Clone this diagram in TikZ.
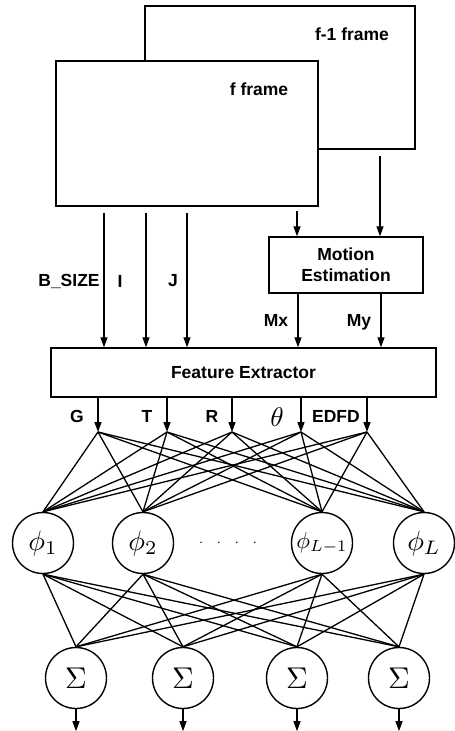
\documentclass[tikz,border=0pt]{standalone}
\usepackage[no-math]{fontspec}
\usepackage{amsmath}
\usetikzlibrary{arrows.meta}
\newfontfamily\labelfont{Liberation Sans}

\tikzset{
  frame/.style={draw, line width=1.4pt, fill=white, inner sep=0pt},
  block/.style={draw, line width=1.4pt, inner sep=0pt, align=center},
  neuron/.style={draw, circle, line width=1.4pt, minimum size=61pt, inner sep=0pt},
  arr/.style={line width=1.3pt, -{Triangle[length=10pt,width=7pt]}},
  link/.style={line width=1.3pt},
  txt/.style={font=\labelfont\bfseries\fontsize{17.5}{21}\selectfont},
}

\begin{document}
\begin{tikzpicture}[x=1pt,y=-1pt]
    \useasboundingbox (0,0) rectangle (455,731);
    % the two frames
    \node[frame, minimum width=270pt, minimum height=143pt] (fprev) at (280,77.5) {};
    \node[frame, minimum width=262pt, minimum height=145pt] (fcur) at (187,133.5) {};
    \node[txt] (fprevtxt) at (352,34) {f-1 frame};
    \node[txt] (fcurtxt) at (259,89) {f frame};

    \node[block, txt, minimum width=154pt, minimum height=56pt] (motion) at (346,265) {Motion\\Estimation};
    \node[block, txt, minimum width=385pt, minimum height=49pt] (feat) at (243.5,372.5) {Feature Extractor};

    % inputs to the extractor
    \foreach \x in {104,146,187}
        \draw[arr] (fcur.south -| \x,0) ++(0,6) -- (feat.north -| \x,0);
    \draw[arr] (fcur.south -| 297,0) ++(0,4) -- (motion.north -| 297,0);
    \draw[arr] (fprev.south -| 380,0) ++(0,6) -- (motion.north -| 380,0);
    \draw[arr] (motion.south -| 298,0) -- (feat.north -| 298,0);
    \draw[arr] (motion.south -| 381,0) -- (feat.north -| 381,0);
    \node[txt] (lbsize) at (69,281) {B\_SIZE};
    \node[txt] (lbi) at (120,281) {I};
    \node[txt] (lbj) at (173,281) {J};
    \node[txt] (lbmx) at (276,320) {Mx};
    \node[txt] (lbmy) at (359,322) {My};

    % features
    \foreach \x [count=\i] in {98,167,232,301,367}
        \draw[arr] (feat.south -| \x,0) -- (\x,432) coordinate (in\i);
    \node[txt] (lbg) at (77,416) {G};
    \node[txt] (lbt) at (147,416) {T};
    \node[txt] (lbr) at (212,416) {R};
    \node (lbth) at (277,417) {\scalebox{2.7}{$\theta$}};
    \node[txt] (lbedfd) at (336,416) {EDFD};

    % hidden layer
    \node[neuron] (p1) at (43,543) {\scalebox{2.8}{$\phi_1$}};
    \node[neuron] (p2) at (143,543) {\scalebox{2.8}{$\phi_2$}};
    \node[neuron] (p3) at (322,543) {\scalebox{2.3}{$\phi_{L-1}$}};
    \node[neuron] (p4) at (424,543) {\scalebox{2.8}{$\phi_L$}};
    \node (dots) at (228,543) {\fontsize{15}{17}\selectfont$\cdot$\hspace{14pt}$\cdot$\hspace{14pt}$\cdot$\hspace{14pt}$\cdot$};

    % output layer
    \foreach \x [count=\j] in {76,183,297,399}
        \node[neuron] (s\j) at (\x,678) {\scalebox{3}{$\Sigma$}};

    \foreach \i in {1,...,5}
        \foreach \j in {1,...,4}
            \draw[link] (in\i) -- (p\j.north);
    \foreach \i in {1,...,4}
        \foreach \j in {1,...,4}
            \draw[link] (p\i.south) -- (s\j.north);
    \foreach \j in {1,...,4}
        \draw[arr] (s\j.south) -- ++(0,22);
\end{tikzpicture}
\end{document}
